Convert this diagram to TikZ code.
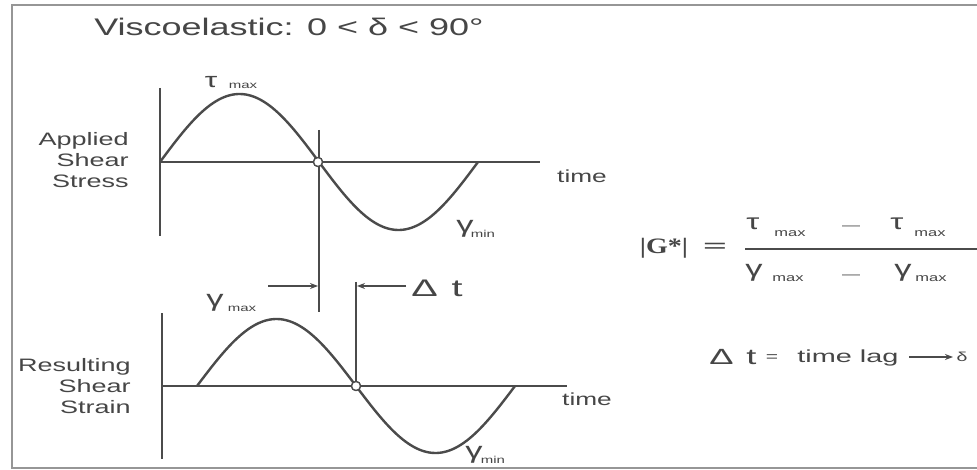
\documentclass[tikz,border=0pt]{standalone}
\usepackage{fontspec}
\setmainfont{Liberation Sans}
\newfontfamily\serifbf{Liberation Serif}
\usetikzlibrary{arrows.meta}
\definecolor{ink}{RGB}{75,75,75}
\definecolor{txt}{RGB}{70,70,70}
\definecolor{framec}{RGB}{150,150,150}
\newcommand\fs[1]{\fontsize{#1}{#1}\selectfont}
\begin{document}
\begin{tikzpicture}[x=1pt,y=-1pt,
  axis/.style={draw=ink, line width=1.8pt},
  wave/.style={draw=ink, line width=2.4pt},
  lbl/.style={text=txt, inner sep=0pt, xscale=1.5},
  zero/.style={circle, draw=ink, fill=white, inner sep=0pt, minimum size=9pt, line width=1.3pt},
  lagarrow/.style={draw=ink, line width=1.3pt, -{Stealth[length=8pt,width=6pt]}},
  bar/.style={draw=ink, line width=1.6pt}]
\useasboundingbox (0,0) rectangle (977,470);
\fill[white] (0,0) rectangle (977,470);
\clip (0,0) rectangle (977,470);
% frame
\draw[framec, line width=2pt] (977,5) -- (12,5) -- (12,468) -- (977,468);

% title
\node[lbl, font=\fs{24}] (title) at (289,27) {Viscoelastic: 0 < δ < 90°};

% ---------- top graph ----------
\coordinate (ty1) at (160,88);
\coordinate (ty2) at (160,236);
\coordinate (tx1) at (160,162);
\coordinate (tx2) at (540,162);
\draw[axis] (ty1) -- (ty2);
\draw[axis] (tx1) -- (tx2);
\draw[wave] plot[domain=0:318, samples=120, smooth] ({160+\x},{162-68*sin(\x/159*180)});
\node[lbl, font=\fs{18}, align=right, anchor=east] (stress) at (129,160) {Applied\\[3pt]Shear\\[3pt]Stress};
\node[lbl, font=\fs{17.5}] (time1) at (582,176) {time};
\node[lbl, font=\fs{21}] (taumax) at (211,82) {τ};
\node[lbl, font=\fs{10}] (taumaxs) at (243,86) {max};
\node[lbl, font=\fs{23}] (gmin1) at (465,229) {γ};
\node[lbl, font=\fs{10}] (gmin1s) at (483,234) {min};

% ---------- bottom graph ----------
\coordinate (by1) at (162,313);
\coordinate (by2) at (162,459);
\coordinate (bx1) at (162,386);
\coordinate (bx2) at (567,386);
\draw[axis] (by1) -- (by2);
\draw[axis] (bx1) -- (bx2);
\draw[wave] plot[domain=0:318, samples=120, smooth] ({197+\x},{386-67*sin(\x/159*180)});
\node[lbl, font=\fs{18}, align=right, anchor=east] (strain) at (131,386) {Resulting\\[3pt]Shear\\[3pt]Strain};
\node[lbl, font=\fs{17.5}] (time2) at (587,399) {time};
\node[lbl, font=\fs{23}] (gmax2) at (215,303) {γ};
\node[lbl, font=\fs{10}] (gmax2s) at (242,309) {max};
\node[lbl, font=\fs{23}] (gmin2) at (474,455) {γ};
\node[lbl, font=\fs{10}] (gmin2s) at (493,460) {min};

% ---------- time lag ----------
\coordinate (v1t) at (319,130);
\coordinate (v1b) at (319,312);
\coordinate (v2t) at (356,282);
\node[zero] (z1) at (318,162) {};
\node[zero] (z2) at (356,386) {};
\draw[axis] (v1t) -- (v1b);
\draw[axis] (v2t) -- (z2.center);
\node[zero] at (z1) {};
\node[zero] at (z2) {};
\coordinate (a1s) at (268,286);
\coordinate (a1e) at (318,286);
\coordinate (a2s) at (406,286);
\coordinate (a2e) at (357,286);
\draw[lagarrow] (a1s) -- (a1e);
\draw[lagarrow] (a2s) -- (a2e);
\node[lbl, xscale=1.1, font=\fs{24}, anchor=west] (dt) at (411,288) {Δ\hspace{0.35em}t};

% ---------- formula ----------
\node[lbl, xscale=0.85, font=\serifbf\bfseries\fs{22}] (G) at (664,248) {|G*|};
\node[lbl, xscale=1.3, font=\serifbf\bfseries\fs{22}] (eq) at (715,248) {=};
\node[lbl, font=\fs{22}] (n1) at (753,224) {τ};
\node[lbl, font=\fs{11}] (n1s) at (790,234) {max};
\node[lbl, font=\fs{12}] (nd) at (851,228) {—};
\node[lbl, font=\fs{22}] (n2) at (897,224) {τ};
\node[lbl, font=\fs{11}] (n2s) at (930,234) {max};
\coordinate (fb1) at (745,249);
\coordinate (fb2) at (977,249);
\draw[bar] (fb1) -- (fb2);
\node[lbl, font=\fs{23}] (d1) at (754,273) {γ};
\node[lbl, font=\fs{11}] (d1s) at (788,279) {max};
\node[lbl, font=\fs{12}] (dd) at (851,277) {—};
\node[lbl, font=\fs{23}] (d2) at (903,273) {γ};
\node[lbl, font=\fs{11}] (d2s) at (931,279) {max};

\node[lbl, xscale=1.1, font=\fs{22}, anchor=west] (lagD) at (709,357) {Δ\hspace{0.35em}t};
\node[lbl, font=\fs{14}] (lageq) at (772,358) {=};
\node[lbl, xscale=1.1, font=\fs{17.5}, anchor=west] (lag) at (797,358) {time lag};
\coordinate (la1) at (909,357);
\coordinate (la2) at (953,357);
\draw[draw=ink, line width=1.4pt, -{Stealth[length=8pt,width=6pt]}] (la1) -- (la2);
\node[lbl, font=\fs{13}] (delta) at (962,357) {δ};
\end{tikzpicture}
\end{document}
